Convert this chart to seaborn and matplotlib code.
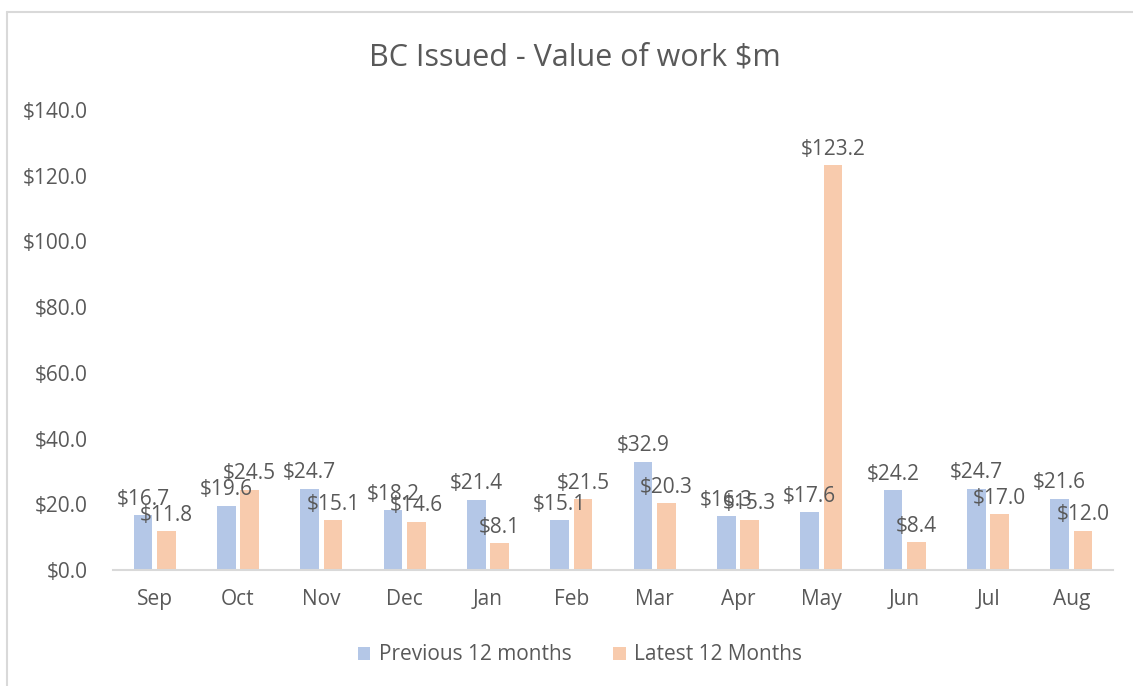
import matplotlib
matplotlib.use("Agg")
import matplotlib.pyplot as plt
from matplotlib.lines import Line2D
import seaborn as sns
import pandas as pd

months = ["Sep", "Oct", "Nov", "Dec", "Jan", "Feb", "Mar", "Apr", "May", "Jun", "Jul", "Aug"]
previous = [16.7, 19.6, 24.7, 18.2, 21.4, 15.1, 32.9, 16.3, 17.6, 24.2, 24.7, 21.6]
latest = [11.8, 24.5, 15.1, 14.6, 8.1, 21.5, 20.3, 15.3, 123.2, 8.4, 17.0, 12.0]
series_names = ["Previous 12 months", "Latest 12 Months"]
yticks = [0, 20, 40, 60, 80, 100, 120, 140]

sns.set_theme(style="white")
plt.rcParams["font.family"] = ["Open Sans", "DejaVu Sans"]

df = pd.DataFrame({
    "month": months * 2,
    "value": previous + latest,
    "series": [series_names[0]] * len(months) + [series_names[1]] * len(months),
})

W, H = 1133, 686
fig = plt.figure(figsize=(W / 100, H / 100), dpi=100)
ax = fig.add_axes([113 / W, 1 - 570 / H, 1000 / W, 460 / H])

colors = ["#B4C7E7", "#F8CBAD"]
sns.barplot(data=df, x="month", y="value", hue="series", order=months,
            hue_order=series_names, palette=colors, width=0.56, gap=0.2,
            saturation=1, ax=ax, legend=True, linewidth=0)

text_color = "#595959"
fs = 15
for cont in ax.containers:
    for bar in cont:
        h = bar.get_height()
        ax.annotate(f"${h:.1f}", (bar.get_x() + bar.get_width() / 2, h),
                    xytext=(0, 4), textcoords="offset points",
                    ha="center", va="bottom", fontsize=fs, color=text_color)

ax.set_xlim(-0.5, 11.5)
ax.set_ylim(0, 140)
ax.set_yticks(yticks)
ax.set_yticklabels([f"${v:.1f}" for v in yticks])
ax.tick_params(axis="y", length=0, pad=18, labelsize=fs, labelcolor=text_color)
ax.tick_params(axis="x", length=0, pad=14, labelsize=fs, labelcolor=text_color)
ax.set_xlabel("")
ax.set_ylabel("")
for s in ["top", "right", "left"]:
    ax.spines[s].set_visible(False)
ax.spines["bottom"].set_color("#D9D9D9")
ax.spines["bottom"].set_linewidth(1.5)

leg = ax.legend(loc="center", bbox_to_anchor=(580 / W, 1 - 655 / H),
                bbox_transform=fig.transFigure, ncol=2, frameon=False,
                fontsize=fs, handlelength=0.6, handleheight=0.6,
                columnspacing=2.0, handletextpad=0.4)
for t in leg.get_texts():
    t.set_color(text_color)

fig.text(575 / W, 1 - 57 / H, "BC Issued - Value of work $m", ha="center",
         va="center", fontsize=22, color=text_color)

# outer chart border
fig.add_artist(Line2D([7 / W, 7 / W], [0, 1 - 12 / H], transform=fig.transFigure,
                      color="#D9D9D9", linewidth=1.5))
fig.add_artist(Line2D([7 / W, 1], [1 - 12 / H, 1 - 12 / H], transform=fig.transFigure,
                      color="#D9D9D9", linewidth=1.5))

fig.savefig("out.png", dpi=100)
